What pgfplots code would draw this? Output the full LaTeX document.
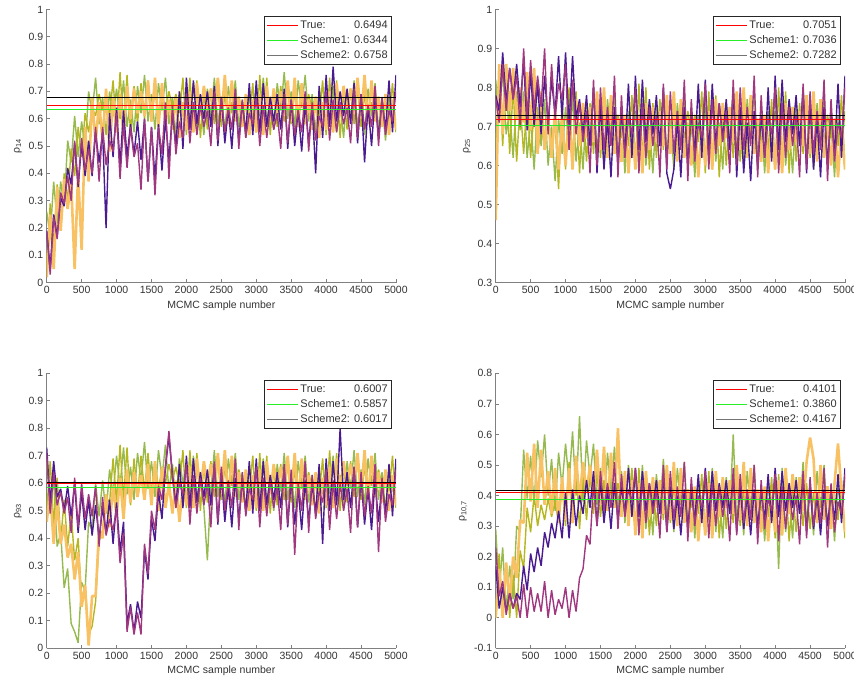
\documentclass[border=0pt]{standalone}
\usepackage{pgfplots}
\usepackage{pgfplotstable}
\usepackage{calc}
\usepackage{fontspec}
\setmainfont{Liberation Sans}
\pgfplotsset{compat=1.18}
\definecolor{trG}{RGB}{150,186,80}
\definecolor{trO}{RGB}{182,182,32}
\definecolor{trR}{RGB}{248,194,100}
\definecolor{trM}{RGB}{160,56,128}
\definecolor{trP}{RGB}{74,26,144}
\definecolor{lgreen}{RGB}{40,240,40}
\definecolor{lred}{RGB}{255,0,0}
\pgfplotsset{
  mcmc/.style={
    scale only axis, width=349.3pt,
    xmin=0, xmax=5000, xtick={0,500,...,5000},
    axis x line=bottom, axis y line=left,
    axis line style={-, draw=black!50, line width=0.6pt},
    tick align=inside, major tick length=3.5pt,
    tick style={draw=black!50, line width=0.6pt},
    ticklabel style={font=\fontsize{10.5}{12}\selectfont, text=black!80},
    /pgf/number format/assume math mode=true,
    /pgf/number format/1000 sep={},
    scaled ticks=false,
    xlabel={MCMC sample number},
    label style={font=\fontsize{10.5}{12}\selectfont, text=black!80},
    legend style={at={(1,1)}, anchor=north east, xshift=-4pt, yshift=-6.7pt,
      draw=black!85, line width=0.6pt, fill=white,
      font=\fontsize{11}{13}\selectfont, text=black!80,
      inner xsep=2pt, inner ysep=2.5pt, row sep=1.5pt, cells={anchor=west}},
    legend image code/.code={\draw[#1] (0pt,0pt) -- (31pt,0pt);},
  },
  tr/.style={line width=1.4pt, forget plot, line join=bevel},
  trw/.style={line width=2.6pt, forget plot, line join=bevel},
}
\newcommand{\LT}{\makebox[\widthof{Scheme1: }][l]{True:}}

\pgfplotstableread{
x g o r m p
0 0.26 0.05 0.02 0.19 0.19
50 0.17 0.29 0.25 0.03 0.05
100 0.37 0.13 0.05 0.24 0.25
150 0.22 0.36 0.35 0.16 0.17
200 0.37 0.19 0.19 0.33 0.31
250 0.28 0.40 0.38 0.29 0.28
300 0.52 0.30 0.27 0.39 0.42
350 0.44 0.49 0.37 0.30 0.36
400 0.61 0.39 0.05 0.52 0.51
450 0.46 0.57 0.40 0.36 0.35
500 0.59 0.46 0.12 0.53 0.51
550 0.49 0.62 0.57 0.41 0.39
600 0.70 0.55 0.37 0.49 0.52
650 0.62 0.64 0.68 0.40 0.39
700 0.75 0.61 0.51 0.57 0.55
750 0.58 0.69 0.66 0.37 0.44
800 0.68 0.63 0.52 0.57 0.55
850 0.54 0.68 0.71 0.43 0.20
900 0.70 0.61 0.48 0.52 0.62
950 0.61 0.74 0.68 0.48 0.46
1000 0.71 0.56 0.55 0.62 0.64
1050 0.60 0.77 0.69 0.38 0.43
1100 0.74 0.57 0.54 0.58 0.63
1150 0.57 0.76 0.72 0.42 0.46
1200 0.67 0.55 0.60 0.57 0.58
1250 0.55 0.72 0.71 0.46 0.47
1300 0.72 0.58 0.62 0.51 0.59
1350 0.62 0.73 0.70 0.34 0.45
1400 0.76 0.60 0.61 0.60 0.60
1450 0.59 0.74 0.74 0.37 0.37
1500 0.69 0.59 0.59 0.57 0.57
1550 0.56 0.71 0.75 0.32 0.38
1600 0.73 0.61 0.57 0.57 0.58
1650 0.63 0.68 0.73 0.47 0.41
1700 0.75 0.63 0.58 0.66 0.60
1750 0.58 0.70 0.67 0.38 0.45
1800 0.68 0.64 0.56 0.65 0.62
1850 0.54 0.69 0.68 0.47 0.50
1900 0.70 0.62 0.53 0.59 0.70
1950 0.61 0.75 0.66 0.53 0.49
2000 0.70 0.54 0.56 0.69 0.75
2050 0.59 0.75 0.70 0.51 0.56
2100 0.73 0.55 0.55 0.66 0.74
2150 0.56 0.74 0.73 0.54 0.58
2200 0.66 0.53 0.61 0.65 0.69
2250 0.54 0.70 0.72 0.57 0.60
2300 0.71 0.56 0.63 0.63 0.70
2350 0.61 0.71 0.71 0.50 0.57
2400 0.75 0.58 0.62 0.70 0.72
2450 0.58 0.72 0.75 0.52 0.50
2500 0.68 0.57 0.60 0.68 0.68
2550 0.55 0.69 0.76 0.55 0.51
2600 0.72 0.59 0.58 0.64 0.64
2650 0.62 0.66 0.74 0.56 0.49
2700 0.74 0.61 0.59 0.71 0.67
2750 0.57 0.68 0.68 0.49 0.52
2800 0.67 0.62 0.57 0.67 0.66
2850 0.53 0.67 0.69 0.53 0.55
2900 0.69 0.60 0.54 0.62 0.73
2950 0.60 0.73 0.67 0.58 0.54
3000 0.72 0.55 0.55 0.68 0.74
3050 0.61 0.76 0.69 0.50 0.55
3100 0.75 0.56 0.54 0.65 0.73
3150 0.58 0.75 0.72 0.53 0.57
3200 0.68 0.54 0.60 0.64 0.68
3250 0.56 0.71 0.71 0.56 0.59
3300 0.73 0.57 0.62 0.62 0.69
3350 0.63 0.72 0.70 0.49 0.56
3400 0.77 0.59 0.61 0.69 0.71
3450 0.60 0.73 0.74 0.51 0.49
3500 0.70 0.58 0.59 0.67 0.67
3550 0.57 0.70 0.75 0.54 0.50
3600 0.74 0.60 0.57 0.63 0.63
3650 0.64 0.67 0.73 0.55 0.48
3700 0.76 0.62 0.58 0.70 0.66
3750 0.59 0.69 0.67 0.48 0.51
3800 0.69 0.63 0.56 0.66 0.65
3850 0.55 0.68 0.68 0.52 0.40
3900 0.71 0.61 0.53 0.61 0.72
3950 0.62 0.74 0.66 0.57 0.53
4000 0.69 0.54 0.56 0.70 0.76
4050 0.58 0.75 0.70 0.52 0.57
4100 0.72 0.55 0.55 0.67 0.79
4150 0.55 0.74 0.73 0.55 0.59
4200 0.65 0.53 0.61 0.66 0.70
4250 0.53 0.70 0.72 0.58 0.61
4300 0.70 0.56 0.63 0.64 0.71
4350 0.60 0.71 0.71 0.51 0.58
4400 0.74 0.58 0.62 0.71 0.73
4450 0.57 0.72 0.75 0.53 0.51
4500 0.67 0.57 0.60 0.69 0.69
4550 0.54 0.69 0.76 0.56 0.44
4600 0.71 0.59 0.58 0.65 0.65
4650 0.61 0.66 0.74 0.57 0.50
4700 0.73 0.61 0.59 0.72 0.68
4750 0.56 0.68 0.68 0.50 0.53
4800 0.66 0.62 0.57 0.68 0.67
4850 0.52 0.67 0.69 0.54 0.56
4900 0.68 0.60 0.54 0.63 0.74
4950 0.59 0.73 0.67 0.59 0.55
5000 0.60 0.55 0.56 0.70 0.76
}\tA

\pgfplotstableread{
x g o r m p
0 0.82 0.64 0.46 0.77 0.78
50 0.71 0.85 0.86 0.71 0.74
100 0.85 0.65 0.68 0.86 0.89
150 0.68 0.84 0.86 0.74 0.76
200 0.74 0.63 0.74 0.85 0.85
250 0.62 0.80 0.85 0.77 0.77
300 0.79 0.61 0.72 0.83 0.86
350 0.69 0.76 0.80 0.70 0.75
400 0.79 0.63 0.71 0.90 0.87
450 0.62 0.77 0.84 0.72 0.69
500 0.72 0.62 0.69 0.87 0.84
550 0.59 0.74 0.85 0.74 0.70
600 0.75 0.63 0.63 0.83 0.81
650 0.65 0.70 0.79 0.75 0.68
700 0.77 0.65 0.64 0.90 0.83
750 0.60 0.72 0.73 0.68 0.71
800 0.70 0.66 0.62 0.86 0.82
850 0.56 0.71 0.74 0.72 0.73
900 0.72 0.54 0.59 0.81 0.88
950 0.63 0.77 0.72 0.77 0.72
1000 0.75 0.59 0.60 0.86 0.89
1050 0.64 0.80 0.74 0.64 0.70
1100 0.78 0.60 0.59 0.82 0.88
1150 0.61 0.79 0.77 0.68 0.72
1200 0.71 0.58 0.65 0.76 0.77
1250 0.59 0.75 0.76 0.66 0.68
1300 0.76 0.61 0.67 0.74 0.78
1350 0.66 0.76 0.75 0.58 0.65
1400 0.80 0.63 0.66 0.82 0.80
1450 0.63 0.77 0.79 0.60 0.58
1500 0.73 0.62 0.64 0.80 0.76
1550 0.60 0.74 0.80 0.64 0.59
1600 0.77 0.64 0.62 0.75 0.72
1650 0.67 0.71 0.78 0.65 0.57
1700 0.79 0.66 0.63 0.83 0.75
1750 0.62 0.73 0.72 0.57 0.60
1800 0.72 0.67 0.61 0.78 0.74
1850 0.58 0.72 0.73 0.62 0.63
1900 0.74 0.65 0.58 0.72 0.81
1950 0.65 0.78 0.71 0.68 0.62
2000 0.74 0.60 0.59 0.80 0.83
2050 0.63 0.81 0.73 0.58 0.64
2100 0.77 0.61 0.58 0.76 0.82
2150 0.60 0.80 0.76 0.62 0.66
2200 0.70 0.59 0.64 0.75 0.77
2250 0.58 0.76 0.75 0.65 0.68
2300 0.75 0.62 0.66 0.73 0.78
2350 0.65 0.77 0.74 0.57 0.65
2400 0.79 0.64 0.65 0.81 0.80
2450 0.62 0.78 0.78 0.59 0.58
2500 0.72 0.63 0.63 0.79 0.54
2550 0.59 0.75 0.79 0.63 0.59
2600 0.76 0.65 0.61 0.74 0.72
2650 0.66 0.72 0.77 0.64 0.57
2700 0.78 0.67 0.62 0.82 0.75
2750 0.61 0.74 0.71 0.56 0.60
2800 0.71 0.68 0.60 0.77 0.74
2850 0.57 0.73 0.72 0.61 0.63
2900 0.73 0.66 0.57 0.71 0.81
2950 0.64 0.79 0.70 0.67 0.62
3000 0.75 0.58 0.60 0.81 0.82
3050 0.64 0.79 0.74 0.59 0.63
3100 0.78 0.59 0.59 0.77 0.81
3150 0.61 0.78 0.77 0.63 0.65
3200 0.71 0.57 0.65 0.76 0.76
3250 0.59 0.74 0.76 0.66 0.67
3300 0.76 0.60 0.67 0.74 0.77
3350 0.66 0.75 0.75 0.58 0.64
3400 0.80 0.62 0.66 0.82 0.79
3450 0.63 0.76 0.79 0.60 0.57
3500 0.73 0.61 0.64 0.80 0.75
3550 0.60 0.73 0.80 0.64 0.58
3600 0.77 0.63 0.62 0.75 0.71
3650 0.67 0.70 0.78 0.65 0.56
3700 0.79 0.65 0.63 0.83 0.74
3750 0.62 0.72 0.72 0.57 0.59
3800 0.72 0.66 0.61 0.78 0.73
3850 0.58 0.71 0.73 0.62 0.62
3900 0.74 0.64 0.58 0.72 0.80
3950 0.65 0.77 0.71 0.68 0.61
4000 0.74 0.59 0.59 0.80 0.83
4050 0.63 0.80 0.73 0.58 0.64
4100 0.77 0.60 0.58 0.76 0.82
4150 0.60 0.79 0.76 0.62 0.66
4200 0.70 0.58 0.64 0.75 0.77
4250 0.58 0.75 0.75 0.65 0.68
4300 0.75 0.61 0.66 0.73 0.78
4350 0.65 0.76 0.74 0.57 0.65
4400 0.79 0.63 0.65 0.81 0.80
4450 0.62 0.77 0.78 0.59 0.58
4500 0.72 0.62 0.63 0.79 0.76
4550 0.59 0.74 0.79 0.63 0.59
4600 0.76 0.64 0.61 0.74 0.72
4650 0.66 0.71 0.77 0.64 0.57
4700 0.78 0.66 0.62 0.82 0.75
4750 0.61 0.73 0.71 0.56 0.60
4800 0.71 0.67 0.60 0.77 0.74
4850 0.57 0.72 0.72 0.61 0.63
4900 0.73 0.65 0.57 0.71 0.81
4950 0.64 0.78 0.70 0.67 0.62
5000 0.74 0.59 0.59 0.80 0.83
}\tB

\pgfplotstableread{
x g o r m p
0 0.68 0.50 0.46 0.71 0.73
50 0.53 0.68 0.57 0.49 0.53
100 0.61 0.45 0.38 0.64 0.68
150 0.37 0.62 0.53 0.52 0.55
200 0.42 0.39 0.38 0.57 0.58
250 0.22 0.54 0.45 0.49 0.50
300 0.29 0.37 0.33 0.55 0.59
350 0.09 0.49 0.38 0.42 0.48
400 0.06 0.32 0.25 0.62 0.60
450 0.02 0.40 0.35 0.44 0.42
500 0.24 0.18 0.15 0.60 0.57
550 0.21 0.23 0.23 0.47 0.43
600 0.46 0.05 0.01 0.56 0.54
650 0.43 0.08 0.19 0.48 0.41
700 0.60 0.17 0.19 0.59 0.52
750 0.48 0.39 0.43 0.37 0.40
800 0.61 0.43 0.40 0.55 0.51
850 0.49 0.55 0.56 0.41 0.42
900 0.65 0.53 0.44 0.47 0.54
950 0.56 0.69 0.59 0.43 0.38
1000 0.70 0.53 0.48 0.51 0.53
1050 0.59 0.74 0.62 0.31 0.35
1100 0.73 0.54 0.47 0.42 0.46
1150 0.56 0.73 0.65 0.06 0.09
1200 0.66 0.52 0.53 0.15 0.16
1250 0.54 0.69 0.64 0.05 0.06
1300 0.71 0.55 0.55 0.13 0.17
1350 0.61 0.70 0.63 0.05 0.11
1400 0.75 0.57 0.54 0.38 0.36
1450 0.58 0.71 0.67 0.27 0.25
1500 0.68 0.56 0.52 0.50 0.47
1550 0.55 0.68 0.68 0.43 0.39
1600 0.72 0.58 0.50 0.59 0.57
1650 0.62 0.65 0.66 0.54 0.47
1700 0.74 0.60 0.51 0.66 0.66
1750 0.57 0.67 0.60 0.79 0.77
1800 0.67 0.61 0.49 0.62 0.63
1850 0.53 0.66 0.61 0.51 0.52
1900 0.69 0.59 0.46 0.60 0.67
1950 0.60 0.72 0.59 0.56 0.51
2000 0.67 0.51 0.52 0.67 0.70
2050 0.56 0.72 0.66 0.45 0.51
2100 0.70 0.52 0.51 0.63 0.69
2150 0.53 0.71 0.69 0.49 0.53
2200 0.63 0.50 0.57 0.62 0.64
2250 0.51 0.67 0.68 0.52 0.55
2300 0.32 0.53 0.59 0.60 0.65
2350 0.58 0.68 0.67 0.44 0.52
2400 0.72 0.55 0.58 0.68 0.67
2450 0.55 0.69 0.71 0.46 0.45
2500 0.65 0.54 0.56 0.66 0.63
2550 0.52 0.66 0.72 0.50 0.46
2600 0.69 0.56 0.54 0.61 0.59
2650 0.59 0.63 0.70 0.51 0.44
2700 0.71 0.58 0.55 0.69 0.62
2750 0.54 0.65 0.64 0.43 0.47
2800 0.64 0.59 0.53 0.64 0.61
2850 0.50 0.64 0.65 0.48 0.50
2900 0.66 0.57 0.50 0.58 0.68
2950 0.57 0.70 0.63 0.54 0.49
3000 0.66 0.50 0.51 0.66 0.69
3050 0.55 0.71 0.65 0.44 0.50
3100 0.69 0.51 0.50 0.62 0.68
3150 0.52 0.70 0.68 0.48 0.52
3200 0.62 0.49 0.56 0.61 0.63
3250 0.50 0.66 0.67 0.51 0.54
3300 0.67 0.52 0.58 0.59 0.64
3350 0.57 0.67 0.66 0.43 0.51
3400 0.71 0.54 0.57 0.67 0.66
3450 0.54 0.68 0.70 0.45 0.44
3500 0.64 0.53 0.55 0.65 0.62
3550 0.51 0.65 0.71 0.34 0.45
3600 0.68 0.55 0.53 0.60 0.58
3650 0.58 0.62 0.69 0.50 0.43
3700 0.70 0.57 0.54 0.68 0.61
3750 0.53 0.64 0.63 0.42 0.46
3800 0.63 0.58 0.52 0.63 0.60
3850 0.49 0.63 0.64 0.47 0.49
3900 0.65 0.56 0.49 0.57 0.67
3950 0.56 0.69 0.62 0.53 0.38
4000 0.67 0.51 0.52 0.65 0.69
4050 0.56 0.72 0.66 0.43 0.50
4100 0.70 0.52 0.51 0.61 0.68
4150 0.53 0.71 0.69 0.47 0.52
4200 0.63 0.50 0.57 0.60 0.80
4250 0.51 0.67 0.68 0.50 0.54
4300 0.68 0.53 0.59 0.58 0.64
4350 0.58 0.68 0.67 0.42 0.51
4400 0.72 0.55 0.58 0.66 0.66
4450 0.55 0.69 0.71 0.44 0.44
4500 0.65 0.54 0.56 0.64 0.62
4550 0.52 0.66 0.72 0.48 0.45
4600 0.69 0.56 0.54 0.59 0.58
4650 0.59 0.63 0.70 0.49 0.43
4700 0.71 0.58 0.55 0.67 0.61
4750 0.54 0.65 0.64 0.35 0.46
4800 0.64 0.59 0.53 0.62 0.60
4850 0.50 0.64 0.65 0.46 0.49
4900 0.66 0.57 0.50 0.56 0.67
4950 0.57 0.70 0.63 0.52 0.48
5000 0.67 0.51 0.52 0.65 0.69
}\tC

\pgfplotstableread{
x g o r m p
0 0.29 0.00 0.00 0.23 0.17
50 0.09 0.21 0.16 0.07 0.03
100 0.23 0.00 0.00 0.12 0.10
150 0.02 0.18 0.18 0.01 0.02
200 0.17 0.00 0.05 0.08 0.08
250 0.06 0.14 0.20 0.03 0.03
300 0.30 0.00 0.13 0.07 0.08
350 0.28 0.22 0.32 0.00 0.06
400 0.55 0.16 0.31 0.11 0.17
450 0.39 0.36 0.54 0.00 0.09
500 0.53 0.28 0.38 0.10 0.21
550 0.37 0.40 0.57 0.02 0.15
600 0.58 0.30 0.36 0.08 0.23
650 0.46 0.37 0.55 0.02 0.17
700 0.60 0.32 0.37 0.12 0.28
750 0.40 0.39 0.48 0.00 0.23
800 0.52 0.33 0.34 0.09 0.31
850 0.35 0.38 0.49 0.01 0.26
900 0.54 0.31 0.31 0.06 0.35
950 0.43 0.44 0.46 0.03 0.26
1000 0.57 0.30 0.32 0.10 0.41
1050 0.44 0.51 0.49 0.00 0.26
1100 0.61 0.31 0.31 0.09 0.42
1150 0.40 0.50 0.53 0.02 0.30
1200 0.66 0.29 0.38 0.13 0.40
1250 0.38 0.46 0.51 0.16 0.34
1300 0.58 0.32 0.41 0.27 0.45
1350 0.46 0.47 0.50 0.24 0.36
1400 0.57 0.34 0.39 0.44 0.48
1450 0.37 0.48 0.55 0.30 0.30
1500 0.49 0.33 0.37 0.48 0.45
1550 0.33 0.45 0.56 0.35 0.31
1600 0.54 0.35 0.35 0.44 0.42
1650 0.42 0.42 0.54 0.36 0.29
1700 0.56 0.37 0.36 0.51 0.44
1750 0.36 0.44 0.62 0.29 0.32
1800 0.48 0.38 0.33 0.47 0.43
1850 0.31 0.43 0.48 0.33 0.34
1900 0.50 0.36 0.30 0.42 0.49
1950 0.39 0.49 0.45 0.38 0.33
2000 0.46 0.28 0.27 0.49 0.49
2050 0.33 0.49 0.44 0.27 0.33
2100 0.50 0.29 0.26 0.45 0.48
2150 0.29 0.48 0.48 0.31 0.35
2200 0.41 0.27 0.33 0.44 0.44
2250 0.27 0.44 0.46 0.34 0.36
2300 0.47 0.30 0.36 0.42 0.45
2350 0.35 0.45 0.45 0.26 0.34
2400 0.52 0.32 0.34 0.50 0.46
2450 0.32 0.46 0.50 0.28 0.28
2500 0.44 0.31 0.32 0.48 0.43
2550 0.28 0.43 0.51 0.32 0.29
2600 0.49 0.33 0.30 0.43 0.40
2650 0.37 0.40 0.49 0.33 0.27
2700 0.51 0.35 0.31 0.51 0.42
2750 0.31 0.42 0.42 0.25 0.30
2800 0.43 0.36 0.28 0.46 0.41
2850 0.26 0.41 0.43 0.30 0.32
2900 0.45 0.34 0.25 0.40 0.47
2950 0.34 0.47 0.40 0.36 0.31
3000 0.45 0.27 0.27 0.48 0.49
3050 0.32 0.48 0.44 0.26 0.33
3100 0.49 0.28 0.26 0.44 0.48
3150 0.28 0.47 0.48 0.30 0.35
3200 0.40 0.26 0.33 0.43 0.44
3250 0.26 0.43 0.46 0.33 0.36
3300 0.46 0.29 0.36 0.41 0.45
3350 0.34 0.44 0.45 0.25 0.34
3400 0.60 0.31 0.34 0.49 0.46
3450 0.31 0.45 0.50 0.27 0.28
3500 0.43 0.30 0.32 0.47 0.43
3550 0.27 0.42 0.51 0.31 0.29
3600 0.48 0.32 0.30 0.42 0.40
3650 0.36 0.39 0.49 0.32 0.27
3700 0.50 0.34 0.31 0.50 0.42
3750 0.30 0.41 0.42 0.24 0.30
3800 0.42 0.35 0.28 0.45 0.41
3850 0.25 0.40 0.43 0.29 0.32
3900 0.44 0.33 0.25 0.39 0.47
3950 0.33 0.46 0.40 0.35 0.31
4000 0.45 0.26 0.28 0.47 0.49
4050 0.16 0.47 0.45 0.25 0.33
4100 0.49 0.27 0.27 0.43 0.48
4150 0.28 0.46 0.49 0.29 0.35
4200 0.40 0.25 0.34 0.42 0.44
4250 0.26 0.42 0.47 0.32 0.36
4300 0.46 0.28 0.37 0.40 0.45
4350 0.34 0.43 0.46 0.24 0.34
4400 0.51 0.30 0.35 0.48 0.46
4450 0.31 0.44 0.51 0.26 0.28
4500 0.43 0.29 0.59 0.46 0.43
4550 0.27 0.41 0.52 0.30 0.29
4600 0.48 0.31 0.31 0.41 0.40
4650 0.36 0.38 0.50 0.31 0.27
4700 0.50 0.33 0.32 0.49 0.42
4750 0.30 0.40 0.43 0.23 0.30
4800 0.42 0.34 0.29 0.44 0.41
4850 0.25 0.39 0.44 0.28 0.32
4900 0.44 0.32 0.57 0.38 0.47
4950 0.33 0.45 0.41 0.34 0.31
5000 0.46 0.26 0.28 0.47 0.49
}\tD

\newcommand{\traces}[1]{%
  \addplot[tr, draw=trG] table[x=x,y=g]{#1};
  \addplot[tr, draw=trO] table[x=x,y=o]{#1};
  \addplot[trw, draw=trR] table[x=x,y=r]{#1};
  \addplot[tr, draw=trP] table[x=x,y=p]{#1};
  \addplot[tr, draw=trM] table[x=x,y=m]{#1};
}
\newcommand{\hlines}[3]{%
  \addplot[forget plot, color=lred, draw=lred, line width=1pt] coordinates {(0,#1)(5000,#1)};
  \addplot[forget plot, color=lgreen, draw=lgreen, line width=1pt] coordinates {(0,#2)(5000,#2)};
  \addplot[forget plot, color=black, draw=black, line width=1pt] coordinates {(0,#3)(5000,#3)};
}
\newcommand{\legs}[3]{%
  \addlegendimage{color=lred, draw=lred, line width=1.1pt}
  \addlegendentry{\LT#1}
  \addlegendimage{color=lgreen, draw=lgreen, line width=1.1pt}
  \addlegendentry{Scheme1: #2}
  \addlegendimage{color=black!55, draw=black!55, line width=1.1pt}
  \addlegendentry{Scheme2: #3}
}

\begin{document}
\begin{tikzpicture}
\useasboundingbox (0,0) rectangle (854pt,679pt);

\begin{axis}[mcmc, at={(46.7pt,396.3pt)}, anchor=south west, height=273.3pt,
  ymin=0, ymax=1, ytick={0,0.1,0.2,0.3,0.4,0.5,0.6,0.7,0.8,0.9,1},
  ylabel={ρ\textsubscript{14}}]
\traces{\tA}
\hlines{0.6494}{0.6324}{0.6765}
\legs{0.6494}{0.6344}{0.6758}
\end{axis}

\begin{axis}[mcmc, at={(495.7pt,396.3pt)}, anchor=south west, height=273.3pt,
  ymin=0.3, ymax=1, ytick={0.3,0.4,0.5,0.6,0.7,0.8,0.9,1},
  ylabel={ρ\textsubscript{25}}]
\traces{\tB}
\hlines{0.7170}{0.7036}{0.7282}
\legs{0.7051}{0.7036}{0.7282}
\end{axis}

\begin{axis}[mcmc, at={(46.7pt,30.7pt)}, anchor=south west, height=275pt,
  ymin=0, ymax=1, ytick={0,0.1,0.2,0.3,0.4,0.5,0.6,0.7,0.8,0.9,1},
  ylabel={ρ\textsubscript{93}}]
\traces{\tC}
\hlines{0.6007}{0.5857}{0.6017}
\legs{0.6007}{0.5857}{0.6017}
\end{axis}

\begin{axis}[mcmc, at={(495.7pt,30.7pt)}, anchor=south west, height=275pt,
  ymin=-0.1, ymax=0.8, ytick={-0.1,0,0.1,0.2,0.3,0.4,0.5,0.6,0.7,0.8},
  ylabel={ρ\textsubscript{10,7}}]
\traces{\tD}
\hlines{0.4101}{0.3860}{0.4167}
\legs{0.4101}{0.3860}{0.4167}
\end{axis}
\end{tikzpicture}
\end{document}
